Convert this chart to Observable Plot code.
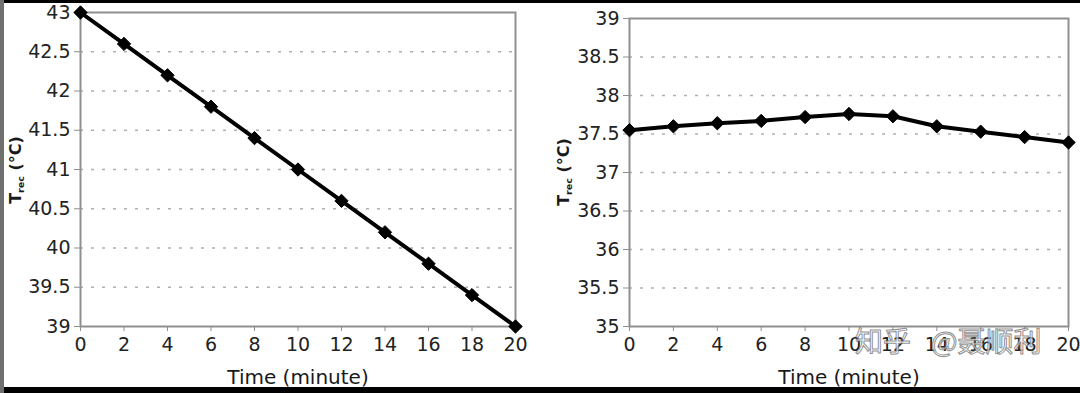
<!DOCTYPE html>
<html>
<head>
<meta charset="utf-8">
<script src="https://cdn.jsdelivr.net/npm/d3@7"></script>
<script src="https://cdn.jsdelivr.net/npm/@observablehq/plot@0.6"></script>
<style>
  html, body { margin: 0; padding: 0; background: #fff; }
  #wrap { position: relative; width: 1080px; height: 393px; overflow: hidden; background: #fff; }
  .panel { position: absolute; top: 0; }
  .bar { position: absolute; background: #000; }
  #watermark {
    position: absolute; left: 855px; top: 326px;
    font-family: "Noto Sans CJK SC", sans-serif; font-size: 28px; line-height: 1;
    color: rgba(255,255,255,0.72);
    -webkit-text-stroke: 1px rgba(105,105,105,0.75);
    white-space: nowrap;
  }
</style>
</head>
<body>
<div id="wrap">
  <div id="left" class="panel" style="left:0px"></div>
  <div id="right" class="panel" style="left:540px"></div>
  <div class="bar" style="left:0;top:0;width:1080px;height:3px"></div>
  <div class="bar" style="left:0;top:387px;width:1080px;height:6px"></div>
  <div class="bar" style="left:0;top:0;width:4px;height:393px;background:#707070"></div>
  <div id="watermark">知乎<span style="margin-left:20px">@聂顺利</span></div>
</div>
<script>
// ---- data ----
const timeMin = [0, 2, 4, 6, 8, 10, 12, 14, 16, 18, 20];
const tempLeft = [43.0, 42.6, 42.2, 41.8, 41.4, 41.0, 40.6, 40.2, 39.8, 39.4, 39.0];
const tempRight = [37.55, 37.60, 37.64, 37.67, 37.72, 37.76, 37.73, 37.60, 37.53, 37.46, 37.39];
const xTicks = [0, 2, 4, 6, 8, 10, 12, 14, 16, 18, 20];
const yTicksLeft = [39, 39.5, 40, 40.5, 41, 41.5, 42, 42.5, 43];
const yTicksRight = [35, 35.5, 36, 36.5, 37, 37.5, 38, 38.5, 39];
const xLabel = "Time (minute)";
const yLabelMain = "T";
const yLabelSub = "rec";
const yLabelUnit = " (°C)";

function panel(values, yTicks, opts) {
  const rows = timeMin.map((t, i) => ({t, v: values[i]}));
  const svg = Plot.plot({
    width: 540,
    height: 388,
    marginLeft: opts.marginLeft,
    marginRight: opts.marginRight,
    marginTop: opts.marginTop,
    marginBottom: 62,
    x: {domain: [xTicks[0], xTicks[xTicks.length - 1]]},
    y: {domain: [yTicks[0], yTicks[yTicks.length - 1]]},
    style: {fontFamily: "DejaVu Sans", background: "transparent", overflow: "visible"},
    marks: [
      Plot.gridY(yTicks.slice(1, -1), {stroke: "#b0b0b0", strokeOpacity: 1, strokeWidth: 1.5, strokeDasharray: "3,8"}),
      Plot.frame({stroke: "#8f8f8f", strokeWidth: 2}),
      Plot.axisX(xTicks, {tickSize: 5, tickPadding: 6, stroke: "#8f8f8f", fill: "#222", fontSize: 19, label: null, tickFormat: d => String(d)}),
      Plot.axisY(yTicks, {tickSize: 6, tickPadding: 4, stroke: "#8f8f8f", fill: "#222", fontSize: 19, label: null, tickFormat: d => String(d)}),
      Plot.text([xLabel], {text: d => d, frameAnchor: "bottom", lineAnchor: "middle", dy: 51, fontSize: 20, fill: "#1a1a1a"}),
      Plot.line(rows, {x: "t", y: "v", stroke: "#000", strokeWidth: 4}),
      Plot.dot(rows, {x: "t", y: "v", symbol: "diamond2", r: 6, fill: "#000", stroke: "#000", strokeWidth: 1})
    ]
  });
  const lab = d3.select(svg).append("text")
    .attr("transform", `translate(${opts.labelX},${opts.labelY}) rotate(-90)`)
    .attr("text-anchor", "middle")
    .attr("font-family", "DejaVu Sans")
    .attr("font-weight", "bold")
    .attr("font-size", 16)
    .attr("fill", "#1a1a1a");
  lab.append("tspan").text(yLabelMain);
  lab.append("tspan").attr("font-size", 9.5).attr("dy", 3).text(yLabelSub);
  lab.append("tspan").attr("dy", -3).text(yLabelUnit);
  return svg;
}

document.getElementById("left").appendChild(
  panel(tempLeft, yTicksLeft, {marginLeft: 80, marginRight: 25, marginTop: 12, labelX: 21, labelY: 170})
);
document.getElementById("right").appendChild(
  panel(tempRight, yTicksRight, {marginLeft: 89, marginRight: 12, marginTop: 18, labelX: 29, labelY: 172})
);
</script>
</body>
</html>
